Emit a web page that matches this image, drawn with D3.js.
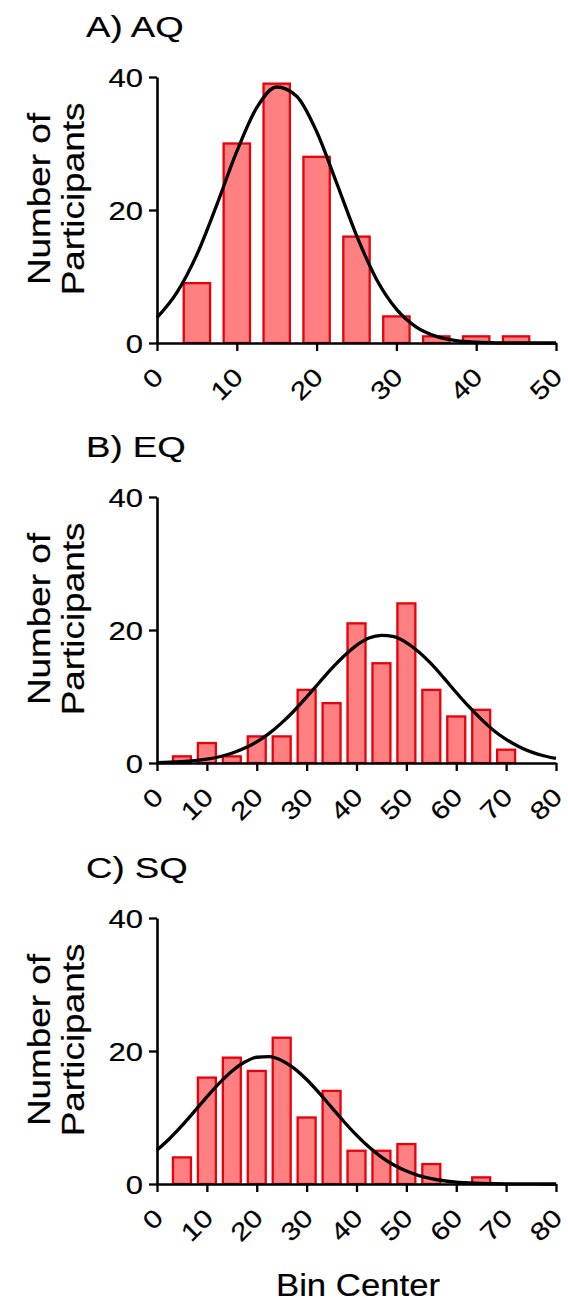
<!DOCTYPE html>
<html><head><meta charset="utf-8">
<script src="https://cdn.jsdelivr.net/npm/d3@7"></script>
<style>
body{margin:0;background:#fff}
text{font-family:"Liberation Sans",Arial,Helvetica,sans-serif;fill:#000;stroke:#000;stroke-width:0.2px}
</style>
</head><body>
<svg id="chart" width="568" height="1305"></svg>
<script>
// ---------- data ----------
const aqBinCenters = [5,10,15,20,25,30,35,40,45];
const aqCounts     = [9,30,39,28,16,4,1,1,1];
const eqBinCenters = [5,10,15,20,25,30,35,40,45,50,55,60,65,70];
const eqCounts     = [1,3,1,4,4,11,9,21,15,24,11,7,8,2];
const sqBinCenters = [5,10,15,20,25,30,35,40,45,50,55,60,65];
const sqCounts     = [4,16,19,17,22,10,14,5,5,6,3,0,1];

const aqXTicks = [0,10,20,30,40,50];
const eqXTicks = [0,10,20,30,40,50,60,70,80];
const sqXTicks = [0,10,20,30,40,50,60,70,80];
const yTicks   = [0,20,40];

// Gaussian fit curves
const aqFitX = [0,2.5,5,7.5,10,12.5,15,17.5,20,22.5,25,27.5,30,32.5,35,37.5,40,42.5,45,47.5,50];
const aqFitY = [3.8,7.6,13.3,20.8,28.8,35.4,38.5,37.1,31.8,24.1,16.2,9.6,5.1,2.4,1.0,0.36,0.12,0.03,0.01,0,0];
const eqFitX = [0,2.5,5,7.5,10,12.5,15,17.5,20,22.5,25,27.5,30,32.5,35,37.5,40,42.5,45,47.5,50,52.5,55,57.5,60,62.5,65,67.5,70,72.5,75,77.5,80];
const eqFitY = [0.06,0.11,0.20,0.35,0.59,0.94,1.46,2.2,3.18,4.45,6.03,7.86,9.92,12.07,14.2,16.1,17.7,18.8,19.2,19.0,18.1,16.7,14.9,12.8,10.6,8.5,6.6,4.9,3.56,2.49,1.67,1.09,0.69];
const sqFitX = [0,2.5,5,7.5,10,12.5,15,17.5,20,22.5,25,27.5,30,32.5,35,37.5,40,42.5,45,47.5,50,52.5,55,57.5,60,62.5,65,67.5,70,72.5,75,77.5,80];
const sqFitY = [5.10,6.81,8.77,10.91,13.10,15.17,16.97,18.30,19.06,19.16,18.58,17.39,15.71,13.70,11.53,9.36,7.34,5.55,4.05,2.85,1.94,1.27,0.81,0.49,0.29,0.17,0.09,0.05,0.02,0.01,0.01,0,0];

const titles = ["A) AQ","B) EQ","C) SQ"];
const yLabelLines = ["Number of","Participants"];
const xLabel = "Bin Center";

// ---------- layout ----------
const panels = [
  {title:titles[0], centers:aqBinCenters, counts:aqCounts, xMax:50, xTicks:aqXTicks, fitX:aqFitX, fitY:aqFitY, top:77,  barW:3.3},
  {title:titles[1], centers:eqBinCenters, counts:eqCounts, xMax:80, xTicks:eqXTicks, fitX:eqFitX, fitY:eqFitY, top:497, barW:3.6},
  {title:titles[2], centers:sqBinCenters, counts:sqCounts, xMax:80, xTicks:sqXTicks, fitX:sqFitX, fitY:sqFitY, top:918, barW:3.6}
];
const left = 157, right = 556, plotH = 266;
const svg = d3.select("#chart");

panels.forEach(p => {
  const x = d3.scaleLinear().domain([0, p.xMax]).range([left, right]);
  const y = d3.scaleLinear().domain([0, 40]).range([p.top + plotH, p.top]);
  const g = svg.append("g");

  // bars
  const bars = p.centers.map((c,i)=>({c, v:p.counts[i]})).filter(d=>d.v>0);
  g.selectAll("rect").data(bars).enter().append("rect")
    .attr("x", d => x(d.c - p.barW/2))
    .attr("width", d => x(d.c + p.barW/2) - x(d.c - p.barW/2))
    .attr("y", d => y(d.v))
    .attr("height", d => y(0) - y(d.v))
    .attr("fill", "#ff8080")
    .attr("stroke", "#e8000b")
    .attr("stroke-width", 2.3);

  // fit curve
  const pts = p.fitX.map((xv,i)=>[xv, p.fitY[i]]);
  g.append("path").datum(pts)
    .attr("d", d3.line().x(d=>x(d[0])).y(d=>y(d[1])).curve(d3.curveMonotoneX))
    .attr("fill","none").attr("stroke","#000").attr("stroke-width",3.3)
    .attr("stroke-linejoin","round");

  // y axis
  const ya = g.append("g").attr("transform", `translate(${left},0)`)
    .call(d3.axisLeft(y).tickValues(yTicks).tickSize(8).tickSizeOuter(0));
  ya.select(".domain").attr("stroke","#000").attr("stroke-width",2.6);
  ya.selectAll(".tick line").attr("stroke","#000").attr("stroke-width",2.3);
  ya.selectAll(".tick text")
    .attr("x", null).attr("dy","0.36em")
    .attr("transform","translate(-14,0) scale(1.24,1)")
    .style("font-size","25px").style("text-anchor","end");

  // x axis
  const xa = g.append("g").attr("transform", `translate(0,${p.top + plotH})`)
    .call(d3.axisBottom(x).tickValues(p.xTicks).tickSize(8).tickSizeOuter(0));
  xa.select(".domain").attr("stroke","#000").attr("stroke-width",2.6);
  xa.selectAll(".tick line").attr("stroke","#000").attr("stroke-width",2.3);
  xa.selectAll(".tick text")
    .attr("y", null).attr("dy","0.36em")
    .attr("transform","translate(1,29) rotate(-45) scale(1.2,1)")
    .style("font-size","25px").style("text-anchor","end");

  // title
  g.append("text").attr("transform", `translate(86,${p.top - 40}) scale(1.22,1)`)
    .style("font-size","30px").text(p.title);

  // y label
  const cy = p.top + 122;
  yLabelLines.forEach((line,i)=>{
    g.append("text")
      .attr("transform", `translate(${50 + i*34},${cy}) rotate(-90) scale(1.19,1)`)
      .style("font-size","31px").style("text-anchor","middle").text(line);
  });
});

svg.append("text").attr("transform","translate(358,1296) scale(1.12,1)")
  .style("font-size","31px").style("text-anchor","middle").text(xLabel);
</script>
</body></html>
